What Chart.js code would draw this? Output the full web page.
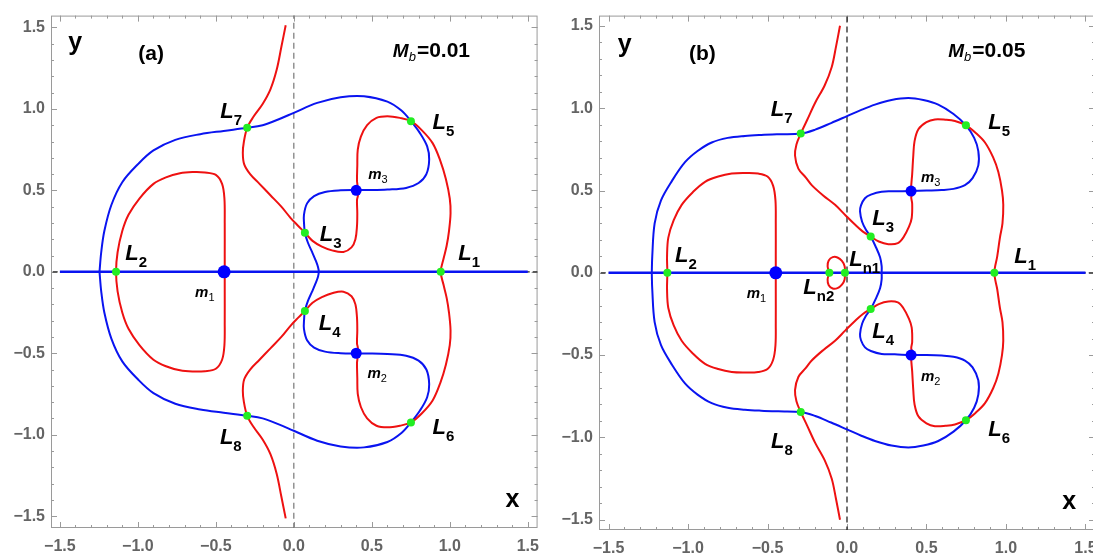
<!DOCTYPE html>
<html lang="en">
<head>
  <meta charset="UTF-8">
  <title>Zero velocity curves - Mb = 0.01 / 0.05</title>
  <script src="https://cdn.jsdelivr.net/npm/chart.js@4.4.2/dist/chart.umd.min.js"></script>
  <style>
    html, body { margin: 0; padding: 0; background: #fff; overflow: hidden; }
    #wrap { position: relative; width: 1093px; height: 556px; overflow: hidden; }
    canvas { position: absolute; top: 0; }
    #ca { left: 0; }
    #cb { left: 548px; }
  </style>
</head>
<body>
<div id="wrap">
  <canvas id="ca" width="548" height="556"></canvas>
  <canvas id="cb" width="560" height="556"></canvas>
</div>
<script>
  // tick labels (both axes, both panels)
  const tickVals = [-1.5, -1.0, -0.5, 0.0, 0.5, 1.0, 1.5];

  // ---------- panel (a), Mb = 0.01 ----------
  const blueA = [
    [-1.246, 0], [-1.235, 0.12], [-1.215, 0.25], [-1.17, 0.41], [-1.1, 0.55], [-1.0, 0.66],
    [-0.9, 0.745], [-0.76, 0.81], [-0.6, 0.845], [-0.45, 0.865], [-0.299, 0.884], [-0.2, 0.9],
    [-0.1, 0.935], [0.0, 0.976], [0.15, 1.037], [0.3, 1.072], [0.45, 1.078], [0.6, 1.045],
    [0.69, 0.99], [0.751, 0.925], [0.81, 0.85], [0.855, 0.77], [0.868, 0.69], [0.85, 0.6],
    [0.8, 0.545], [0.72, 0.515], [0.6, 0.505], [0.5, 0.502], [0.4, 0.502], [0.3, 0.5],
    [0.2, 0.49], [0.13, 0.465], [0.085, 0.42], [0.065, 0.35], [0.066, 0.29], [0.071, 0.24],
    [0.09, 0.18], [0.117, 0.122], [0.14, 0.07], [0.155, 0.03], [0.16, 0],
    [0.155, -0.03], [0.14, -0.07], [0.117, -0.122], [0.09, -0.18], [0.071, -0.24], [0.066, -0.29],
    [0.065, -0.35], [0.085, -0.42], [0.13, -0.465], [0.2, -0.49], [0.3, -0.5], [0.4, -0.502],
    [0.5, -0.502], [0.6, -0.505], [0.72, -0.515], [0.8, -0.545], [0.85, -0.6], [0.868, -0.69],
    [0.855, -0.77], [0.81, -0.85], [0.751, -0.925], [0.69, -0.99], [0.6, -1.045], [0.45, -1.078],
    [0.3, -1.072], [0.15, -1.037], [0.0, -0.976], [-0.1, -0.935], [-0.2, -0.9], [-0.299, -0.884],
    [-0.45, -0.865], [-0.6, -0.845], [-0.76, -0.81], [-0.9, -0.745], [-1.0, -0.66], [-1.1, -0.55],
    [-1.17, -0.41], [-1.215, -0.25], [-1.235, -0.12], [-1.246, 0]
  ];
  const redLoopA = [
    [-0.443, 0], [-0.443, 0.1], [-0.443, 0.3], [-0.445, 0.45], [-0.46, 0.54], [-0.5, 0.595],
    [-0.57, 0.61], [-0.65, 0.612], [-0.73, 0.605], [-0.82, 0.58], [-0.9, 0.54], [-0.99, 0.45],
    [-1.06, 0.35], [-1.1, 0.25], [-1.13, 0.12], [-1.14, 0],
    [-1.13, -0.12], [-1.1, -0.25], [-1.06, -0.35], [-0.99, -0.45], [-0.9, -0.54], [-0.82, -0.58],
    [-0.73, -0.605], [-0.65, -0.612], [-0.57, -0.61], [-0.5, -0.595], [-0.46, -0.54], [-0.445, -0.45],
    [-0.443, -0.3], [-0.443, -0.1], [-0.443, 0]
  ];
  const redMainA = [
    [-0.052, 1.514], [-0.08, 1.38], [-0.11, 1.24], [-0.15, 1.12], [-0.2, 1.03], [-0.26, 0.95],
    [-0.299, 0.884], [-0.32, 0.8], [-0.327, 0.73], [-0.318, 0.66], [-0.28, 0.6], [-0.22, 0.54],
    [-0.15, 0.47], [-0.08, 0.4], [-0.02, 0.33], [0.03, 0.28], [0.071, 0.24], [0.12, 0.19],
    [0.18, 0.155], [0.25, 0.13], [0.318, 0.122], [0.37, 0.15], [0.395, 0.2], [0.405, 0.28],
    [0.407, 0.36], [0.405, 0.44], [0.411, 0.47], [0.402, 0.49], [0.408, 0.53], [0.405, 0.56],
    [0.407, 0.65], [0.41, 0.75], [0.43, 0.83], [0.47, 0.9], [0.53, 0.945], [0.6, 0.955],
    [0.68, 0.945], [0.751, 0.925], [0.82, 0.87], [0.89, 0.79], [0.94, 0.68], [0.975, 0.57],
    [1.0, 0.45], [1.005, 0.36], [0.995, 0.25], [0.98, 0.16], [0.96, 0.08], [0.942, 0],
    [0.96, -0.08], [0.98, -0.16], [0.995, -0.25], [1.005, -0.36], [1.0, -0.45], [0.975, -0.57],
    [0.94, -0.68], [0.89, -0.79], [0.82, -0.87], [0.751, -0.925], [0.68, -0.945], [0.6, -0.955],
    [0.53, -0.945], [0.47, -0.9], [0.43, -0.83], [0.41, -0.75], [0.407, -0.65], [0.405, -0.56],
    [0.408, -0.53], [0.402, -0.49], [0.411, -0.47], [0.405, -0.44], [0.407, -0.36], [0.405, -0.28],
    [0.395, -0.2], [0.37, -0.15], [0.318, -0.122], [0.25, -0.13], [0.18, -0.155], [0.12, -0.19],
    [0.071, -0.24], [0.03, -0.28], [-0.02, -0.33], [-0.08, -0.4], [-0.15, -0.47], [-0.22, -0.54],
    [-0.28, -0.6], [-0.318, -0.66], [-0.327, -0.73], [-0.32, -0.8], [-0.299, -0.884], [-0.26, -0.95],
    [-0.2, -1.03], [-0.15, -1.12], [-0.11, -1.24], [-0.08, -1.38], [-0.052, -1.514]
  ];
  // L1..L8
  const lagrangeA = [
    [0.942, 0], [-1.14, 0], [0.071, 0.24], [0.071, -0.24],
    [0.751, 0.925], [0.751, -0.925], [-0.299, 0.884], [-0.299, -0.884]
  ];
  // m1, m2, m3
  const massesA = [[-0.447, 0], [0.4, -0.5], [0.4, 0.5]];

  // ---------- panel (b), Mb = 0.05 ----------
  const blueB = [
    [-1.228, 0], [-1.225, 0.1], [-1.21, 0.3], [-1.17, 0.44], [-1.1, 0.56], [-1.019, 0.672],
    [-0.94, 0.74], [-0.851, 0.792], [-0.75, 0.82], [-0.642, 0.832], [-0.54, 0.838], [-0.432, 0.842],
    [-0.291, 0.846], [-0.2, 0.87], [-0.1, 0.91], [0.0, 0.952], [0.09, 0.99], [0.176, 1.022],
    [0.28, 1.05], [0.386, 1.062], [0.48, 1.05], [0.574, 1.022], [0.67, 0.965], [0.748, 0.896],
    [0.8, 0.82], [0.826, 0.74], [0.826, 0.653], [0.79, 0.575], [0.742, 0.533], [0.67, 0.51],
    [0.595, 0.503], [0.5, 0.5], [0.403, 0.497], [0.3, 0.495], [0.218, 0.493], [0.15, 0.475],
    [0.113, 0.453], [0.088, 0.41], [0.082, 0.373], [0.095, 0.31], [0.12, 0.26], [0.149, 0.22],
    [0.18, 0.16], [0.208, 0.094], [0.218, 0.04], [0.218, 0],
    [0.218, -0.04], [0.208, -0.094], [0.18, -0.16], [0.149, -0.22], [0.12, -0.26], [0.095, -0.31],
    [0.082, -0.373], [0.088, -0.41], [0.113, -0.453], [0.15, -0.475], [0.218, -0.493], [0.3, -0.495],
    [0.403, -0.5], [0.5, -0.5], [0.595, -0.503], [0.67, -0.51], [0.742, -0.533], [0.79, -0.575],
    [0.826, -0.653], [0.826, -0.74], [0.8, -0.82], [0.748, -0.896], [0.67, -0.965], [0.574, -1.022],
    [0.48, -1.05], [0.386, -1.062], [0.28, -1.05], [0.176, -1.022], [0.09, -0.99], [0.0, -0.952],
    [-0.1, -0.91], [-0.2, -0.87], [-0.291, -0.846], [-0.432, -0.842], [-0.54, -0.838], [-0.642, -0.832],
    [-0.75, -0.82], [-0.851, -0.792], [-0.94, -0.74], [-1.019, -0.672], [-1.1, -0.56], [-1.17, -0.44],
    [-1.21, -0.3], [-1.225, -0.1], [-1.228, 0]
  ];
  const redLoopB = [
    [-0.448, 0], [-0.448, 0.1], [-0.448, 0.3], [-0.45, 0.44], [-0.465, 0.53], [-0.5, 0.585],
    [-0.558, 0.603], [-0.64, 0.606], [-0.725, 0.603], [-0.81, 0.585], [-0.893, 0.553], [-0.97, 0.49],
    [-1.04, 0.413], [-1.09, 0.32], [-1.124, 0.214], [-1.132, 0.1], [-1.13, 0],
    [-1.132, -0.1], [-1.124, -0.214], [-1.09, -0.32], [-1.04, -0.413], [-0.97, -0.49], [-0.893, -0.553],
    [-0.81, -0.585], [-0.725, -0.603], [-0.64, -0.606], [-0.558, -0.603], [-0.5, -0.585], [-0.465, -0.53],
    [-0.45, -0.44], [-0.448, -0.3], [-0.448, -0.1], [-0.448, 0]
  ];
  const redMainB = [
    [-0.044, 1.501], [-0.07, 1.37], [-0.096, 1.251], [-0.14, 1.14], [-0.201, 1.032], [-0.25, 0.93],
    [-0.291, 0.846], [-0.318, 0.78], [-0.327, 0.713], [-0.306, 0.633], [-0.26, 0.58], [-0.222, 0.533],
    [-0.15, 0.47], [-0.075, 0.413], [-0.01, 0.35], [0.05, 0.293], [0.1, 0.25], [0.149, 0.22],
    [0.2, 0.19], [0.26, 0.174], [0.32, 0.18], [0.354, 0.214], [0.39, 0.28], [0.407, 0.333],
    [0.41, 0.42], [0.404, 0.46], [0.412, 0.48], [0.403, 0.5], [0.41, 0.6], [0.417, 0.713],
    [0.425, 0.8], [0.449, 0.872], [0.5, 0.915], [0.553, 0.932], [0.62, 0.93], [0.679, 0.922],
    [0.748, 0.896], [0.81, 0.85], [0.868, 0.792], [0.92, 0.7], [0.952, 0.613], [0.975, 0.5],
    [0.983, 0.413], [0.978, 0.3], [0.962, 0.214], [0.945, 0.1], [0.927, 0],
    [0.945, -0.1], [0.962, -0.214], [0.978, -0.3], [0.983, -0.413], [0.975, -0.5], [0.952, -0.613],
    [0.92, -0.7], [0.868, -0.792], [0.81, -0.85], [0.748, -0.896], [0.679, -0.922], [0.62, -0.93],
    [0.553, -0.932], [0.5, -0.915], [0.449, -0.872], [0.425, -0.8], [0.417, -0.713], [0.41, -0.6],
    [0.403, -0.5], [0.412, -0.48], [0.404, -0.46], [0.41, -0.42], [0.407, -0.333], [0.39, -0.28],
    [0.354, -0.214], [0.32, -0.18], [0.26, -0.174], [0.2, -0.19], [0.149, -0.22], [0.1, -0.25],
    [0.05, -0.293], [-0.01, -0.35], [-0.075, -0.413], [-0.15, -0.47], [-0.222, -0.533], [-0.26, -0.58],
    [-0.306, -0.633], [-0.327, -0.713], [-0.318, -0.78], [-0.291, -0.846], [-0.25, -0.93], [-0.201, -1.032],
    [-0.14, -1.14], [-0.096, -1.251], [-0.07, -1.37], [-0.044, -1.501]
  ];
  // small oval between Ln2 and Ln1
  const redSmallB = [
    [-0.111, 0], [-0.122, 0.04], [-0.115, 0.075], [-0.09, 0.095], [-0.06, 0.093], [-0.032, 0.072],
    [-0.015, 0.04], [-0.013, 0], [-0.015, -0.04], [-0.032, -0.072], [-0.06, -0.093], [-0.09, -0.095],
    [-0.115, -0.075], [-0.122, -0.04], [-0.111, 0]
  ];
  // L1..L8, Ln1, Ln2
  const lagrangeB = [
    [0.927, 0], [-1.13, 0], [0.149, 0.22], [0.149, -0.22], [0.748, 0.896], [0.748, -0.896],
    [-0.291, 0.846], [-0.291, -0.846], [-0.013, 0], [-0.111, 0]
  ];
  const massesB = [[-0.448, 0], [0.403, -0.5], [0.403, 0.497]];

  const FONT = "'Liberation Sans', Arial, sans-serif";
  const pts = arr => arr.map(p => ({ x: p[0], y: p[1] }));
  const fmt = v => v.toFixed(1).replace('-', '\u2212');

  // text placed in data coordinates (left, baseline)
  const labelsA = [
    { k: 'axis', t: 'y', x: -1.447, y: 1.362 },
    { k: 'axis', t: 'x', x: 1.358, y: -1.447 },
    { k: 'panel', t: '(a)', x: -0.997, y: 1.3 },
    { k: 'mb', t: '=0.01', x: 0.635, y: 1.321 },
    { k: 'L', s: '1', x: 1.054, y: 0.071 },
    { k: 'L', s: '2', x: -1.081, y: 0.073 },
    { k: 'L', s: '3', x: 0.166, y: 0.187 },
    { k: 'L', s: '4', x: 0.16, y: -0.356 },
    { k: 'L', s: '5', x: 0.889, y: 0.878 },
    { k: 'L', s: '6', x: 0.889, y: -0.996 },
    { k: 'L', s: '7', x: -0.472, y: 0.945 },
    { k: 'L', s: '8', x: -0.474, y: -1.057 },
    { k: 'm', s: '1', x: -0.633, y: -0.152 },
    { k: 'm', s: '2', x: 0.472, y: -0.654 },
    { k: 'm', s: '3', x: 0.477, y: 0.569 }
  ];
  const labelsB = [
    { k: 'axis', t: 'y', x: -1.442, y: 1.341 },
    { k: 'axis', t: 'x', x: 1.354, y: -1.433 },
    { k: 'panel', t: '(b)', x: -0.994, y: 1.292 },
    { k: 'mb', t: '=0.05', x: 0.637, y: 1.311 },
    { k: 'L', s: '1', x: 1.052, y: 0.058 },
    { k: 'L', s: '2', x: -1.082, y: 0.064 },
    { k: 'L', s: '3', x: 0.159, y: 0.293 },
    { k: 'L', s: '4', x: 0.159, y: -0.395 },
    { k: 'L', s: '5', x: 0.889, y: 0.872 },
    { k: 'L', s: '6', x: 0.889, y: -0.994 },
    { k: 'L', s: '7', x: -0.48, y: 0.952 },
    { k: 'L', s: '8', x: -0.478, y: -1.064 },
    { k: 'L', s: 'n1', x: 0.014, y: 0.044 },
    { k: 'L', s: 'n2', x: -0.275, y: -0.126 },
    { k: 'm', s: '1', x: -0.631, y: -0.156 },
    { k: 'm', s: '2', x: 0.465, y: -0.655 },
    { k: 'm', s: '3', x: 0.465, y: 0.553 }
  ];

  // frame with inward ticks, like the original
  const frameTicks = {
    id: 'frameTicks',
    beforeDatasetsDraw(chart) {
      const { ctx, chartArea: a, scales: { x, y } } = chart;
      ctx.save();
      ctx.strokeStyle = '#9a9a9a';
      ctx.lineWidth = 1;
      ctx.strokeRect(a.left + 0.5, a.top + 0.5, a.right - a.left - 1, a.bottom - a.top - 1);
      ctx.beginPath();
      for (let i = -15; i <= 15; i++) {
        const len = i % 5 === 0 ? 6 : 3;
        const px = Math.round(x.getPixelForValue(i / 10)) + 0.5;
        ctx.moveTo(px, a.bottom); ctx.lineTo(px, a.bottom - len);
        ctx.moveTo(px, a.top); ctx.lineTo(px, a.top + len);
        const py = Math.round(y.getPixelForValue(i / 10)) + 0.5;
        ctx.moveTo(a.left, py); ctx.lineTo(a.left + len, py);
        ctx.moveTo(a.right, py); ctx.lineTo(a.right - len, py);
      }
      ctx.stroke();
      ctx.restore();
    }
  };

  const textLabels = {
    id: 'textLabels',
    afterDatasetsDraw(chart, args, opts) {
      const { ctx, scales: { x, y } } = chart;
      ctx.save();
      ctx.fillStyle = '#000';
      ctx.textBaseline = 'alphabetic';
      ctx.textAlign = 'left';
      opts.items.forEach(l => {
        const px = x.getPixelForValue(l.x), py = y.getPixelForValue(l.y);
        if (l.k === 'L') {
          ctx.font = 'italic bold 22px ' + FONT;
          ctx.fillText('L', px, py);
          const w = ctx.measureText('L').width;
          ctx.font = 'bold 15px ' + FONT;
          ctx.fillText(l.s, px + w, py + 7);
        } else if (l.k === 'm') {
          ctx.font = 'italic bold 15px ' + FONT;
          ctx.fillText('m', px, py);
          const w = ctx.measureText('m').width;
          ctx.font = '11px ' + FONT;
          ctx.fillText(l.s, px + w, py + 4);
        } else if (l.k === 'mb') {
          ctx.font = 'italic bold 19px ' + FONT;
          ctx.fillText('M', px, py);
          let w = ctx.measureText('M').width;
          ctx.font = 'italic 13px ' + FONT;
          ctx.fillText('b', px + w, py + 4);
          w += ctx.measureText('b').width + 1;
          ctx.font = 'bold 21px ' + FONT;
          ctx.fillText(l.t, px + w, py);
        } else if (l.k === 'panel') {
          ctx.font = 'bold 21px ' + FONT;
          ctx.fillText(l.t, px, py);
        } else {
          ctx.font = 'bold 25px ' + FONT;
          ctx.fillText(l.t, px, py);
        }
      });
      ctx.restore();
    }
  };

  function curve(data, color, order) {
    return {
      data: pts(data), showLine: true, borderColor: color, borderWidth: 2,
      pointRadius: 0, tension: 0.35, order: order
    };
  }

  function makeChart(id, p) {
    const datasets = [
      { data: pts(p.masses), pointRadius: p.massR, pointBackgroundColor: '#0000ff', pointBorderWidth: 0, order: 0 },
      { data: pts(p.lagrange), pointRadius: 4, pointBackgroundColor: '#22ee22', pointBorderWidth: 0, order: 0 },
      curve(p.blue, '#0a14f0', 2),
      curve(p.redLoop, '#ee1111', 1),
      curve(p.redMain, '#ee1111', 1),
      { data: pts([[-1.5, 0], [1.5, 0]]), showLine: true, borderColor: '#0a14f0', borderWidth: 2.5, pointRadius: 0, order: 3 },
      { data: pts([[-1.7, 0], [1.7, 0]]), showLine: true, borderColor: '#222', borderWidth: 1.2,
        borderDash: [5, 3], pointRadius: 0, order: 4 },
      { data: pts([[0, -1.7], [0, 1.7]]), showLine: true, borderColor: p.vColor, borderWidth: 1.2,
        borderDash: [6, 4], pointRadius: 0, order: 4 }
    ];
    if (p.redSmall) datasets.push(curve(p.redSmall, '#ee1111', 1));

    const tickFont = { family: FONT, size: 16, weight: 'bold' };
    return new Chart(document.getElementById(id), {
      type: 'scatter',
      data: { datasets: datasets },
      options: {
        responsive: false,
        animation: false,
        devicePixelRatio: 1,
        layout: { padding: p.pad },
        plugins: {
          legend: { display: false },
          tooltip: { enabled: false },
          textLabels: { items: p.labels }
        },
        scales: {
          x: {
            type: 'linear', min: p.xr[0], max: p.xr[1],
            afterBuildTicks: s => { s.ticks = tickVals.map(v => ({ value: v })); },
            afterFit: s => { s.height = p.xh; },
            grid: { display: false, drawTicks: false },
            border: { display: false },
            ticks: { color: '#646464', font: tickFont, padding: 9, maxRotation: 0, autoSkip: false, callback: fmt }
          },
          y: {
            type: 'linear', min: p.yr[0], max: p.yr[1],
            afterBuildTicks: s => { s.ticks = tickVals.map(v => ({ value: v })); },
            afterFit: s => { s.width = 51; },
            grid: { display: false, drawTicks: false },
            border: { display: false },
            ticks: { color: '#646464', font: tickFont, padding: 6, autoSkip: false, callback: fmt }
          }
        }
      },
      plugins: [frameTicks, textLabels]
    });
  }

  makeChart('ca', {
    blue: blueA, redLoop: redLoopA, redMain: redMainA, lagrange: lagrangeA, masses: massesA,
    massR: [6.5, 5.5, 5.5], labels: labelsA, vColor: '#777',
    xr: [-1.557, 1.563], yr: [-1.573, 1.573], xh: 28, pad: { top: 12, right: 5, left: 0, bottom: 0 }
  });
  makeChart('cb', {
    blue: blueB, redLoop: redLoopB, redMain: redMainB, redSmall: redSmallB, lagrange: lagrangeB, masses: massesB,
    massR: [6.5, 5.5, 5.5], labels: labelsB, vColor: '#111',
    xr: [-1.56, 1.56], yr: [-1.563, 1.563], xh: 26, pad: { top: 8, right: 13, left: 0, bottom: 0 }
  });
</script>
</body>
</html>
